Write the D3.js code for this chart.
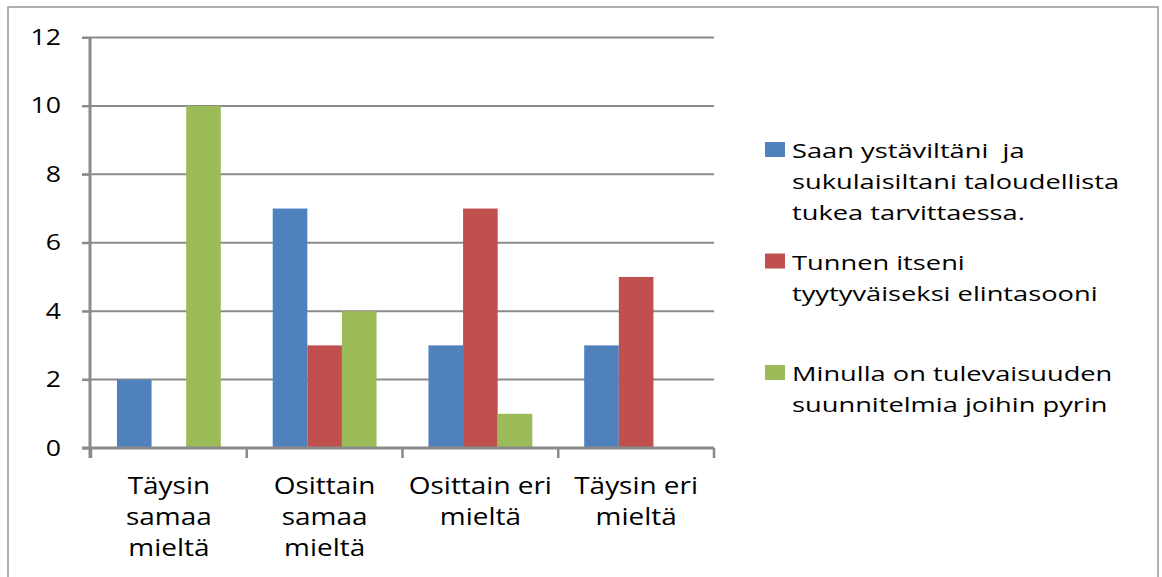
<!DOCTYPE html>
<html>
<head>
<meta charset="utf-8">
<script src="https://cdn.jsdelivr.net/npm/d3@7"></script>
<style>
  body { margin: 0; background: #fff; }
  text { font-family: "Open Sans", sans-serif; fill: #000; white-space: pre; }
</style>
</head>
<body>
<svg id="chart" width="1162" height="577"></svg>
<script>
// data
var categories = ["Täysin samaa mieltä", "Osittain samaa mieltä", "Osittain eri mieltä", "Täysin eri mieltä"]
var categoryLines = [["Täysin", "samaa", "mieltä"], ["Osittain", "samaa", "mieltä"], ["Osittain eri", "mieltä"], ["Täysin eri", "mieltä"]]
var seriesNames = [
  "Saan ystäviltäni  ja sukulaisiltani taloudellista tukea tarvittaessa.",
  "Tunnen itseni tyytyväiseksi elintasooni",
  "Minulla on tulevaisuuden suunnitelmia joihin pyrin"
]
var seriesLines = [
  ["Saan ystäviltäni  ja", "sukulaisiltani taloudellista", "tukea tarvittaessa."],
  ["Tunnen itseni", "tyytyväiseksi elintasooni"],
  ["Minulla on tulevaisuuden", "suunnitelmia joihin pyrin"]
]
var seriesValues = [
  [2, 7, 3, 3],
  [0, 3, 7, 5],
  [10, 4, 1, 0]
]
var yTicks = [0, 2, 4, 6, 8, 10, 12]
var colors = ["#4F81BD", "#C0504D", "#9BBB59"]

var svg = d3.select("#chart")
var gridColor = "#8a8a8a"

// outer frame (bottom edge is cut off)
svg.append("rect")
  .attr("x", 8).attr("y", 7)
  .attr("width", 1150).attr("height", 600)
  .attr("fill", "#fff")
  .attr("stroke", "#959595")
  .attr("stroke-width", 1.5)

var x0 = d3.scaleBand().domain(categories).range([91, 714])
var x1 = d3.scaleBand().domain(d3.range(seriesNames.length))
  .range([0, x0.bandwidth()]).paddingOuter(0.75)
var y = d3.scaleLinear().domain([0, 12]).range([448, 37.5])

// text in the picture is stretched sideways, so scale it on x
function stretched(g, x, yy, str, size, sx, anchor) {
  return g.append("text")
    .attr("transform", "translate(" + x + "," + yy + ") scale(" + sx + ",1)")
    .attr("text-anchor", anchor)
    .style("font-size", size + "px")
    .text(str)
}

// gridlines
svg.append("g")
  .selectAll("line")
  .data(yTicks.filter(d => d > 0))
  .enter()
  .append("line")
  .attr("x1", 82).attr("x2", 714)
  .attr("y1", d => y(d)).attr("y2", d => y(d))
  .attr("stroke", gridColor)
  .attr("stroke-width", 2)

// bars
var groups = svg.append("g")
  .selectAll("g")
  .data(seriesValues)
  .enter()
  .append("g")
  .attr("fill", (d, i) => colors[i])

groups.each(function(vals, si) {
  d3.select(this).selectAll("rect")
    .data(vals)
    .enter()
    .append("rect")
    .attr("x", (d, ci) => x0(categories[ci]) + x1(si))
    .attr("width", x1.bandwidth())
    .attr("y", d => y(d))
    .attr("height", d => y(0) - y(d))
})

// y axis
var yAxis = svg.append("g")
  .attr("transform", "translate(90,0)")
  .call(d3.axisLeft(y).tickValues(yTicks).tickSize(8).tickSizeOuter(0).tickFormat(d3.format("d")))
yAxis.select(".domain").attr("stroke", gridColor).attr("stroke-width", 3)
  .attr("d", "M0," + y(12) + "V" + (y(0) + 10))
yAxis.selectAll(".tick line").attr("stroke", gridColor).attr("stroke-width", 2)
yAxis.selectAll(".tick text").remove()
yTicks.forEach(function(t) {
  stretched(svg, 61, y(t) + 7.5, String(t), 21, 1.27, "end")
})

// x axis
var xAxis = svg.append("g")
  .attr("transform", "translate(0," + y(0) + ")")
xAxis.append("line")
  .attr("x1", 82).attr("x2", 714)
  .attr("stroke", gridColor).attr("stroke-width", 3)
xAxis.selectAll(".xtick")
  .data(categories.concat(["end"]))
  .enter()
  .append("line")
  .attr("class", "xtick")
  .attr("x1", (d, i) => i < categories.length ? x0(d) : x0.range()[1])
  .attr("x2", (d, i) => i < categories.length ? x0(d) : x0.range()[1])
  .attr("y1", 0).attr("y2", 10)
  .attr("stroke", gridColor).attr("stroke-width", 2.5)

categoryLines.forEach(function(lines, ci) {
  var cx = x0(categories[ci]) + x0.bandwidth() / 2
  lines.forEach(function(l, li) {
    stretched(svg, cx, 494 + li * 31, l, 23, 1.215, "middle")
  })
})

// legend
seriesLines.forEach(function(lines, si) {
  var top = 158 + si * 111.5
  svg.append("rect")
    .attr("x", 765).attr("y", top - 16)
    .attr("width", 20).attr("height", 15)
    .attr("fill", colors[si])
  lines.forEach(function(l, li) {
    stretched(svg, 792, top + li * 31, l, 20.5, 1.33, "start")
  })
})
</script>
</body>
</html>
